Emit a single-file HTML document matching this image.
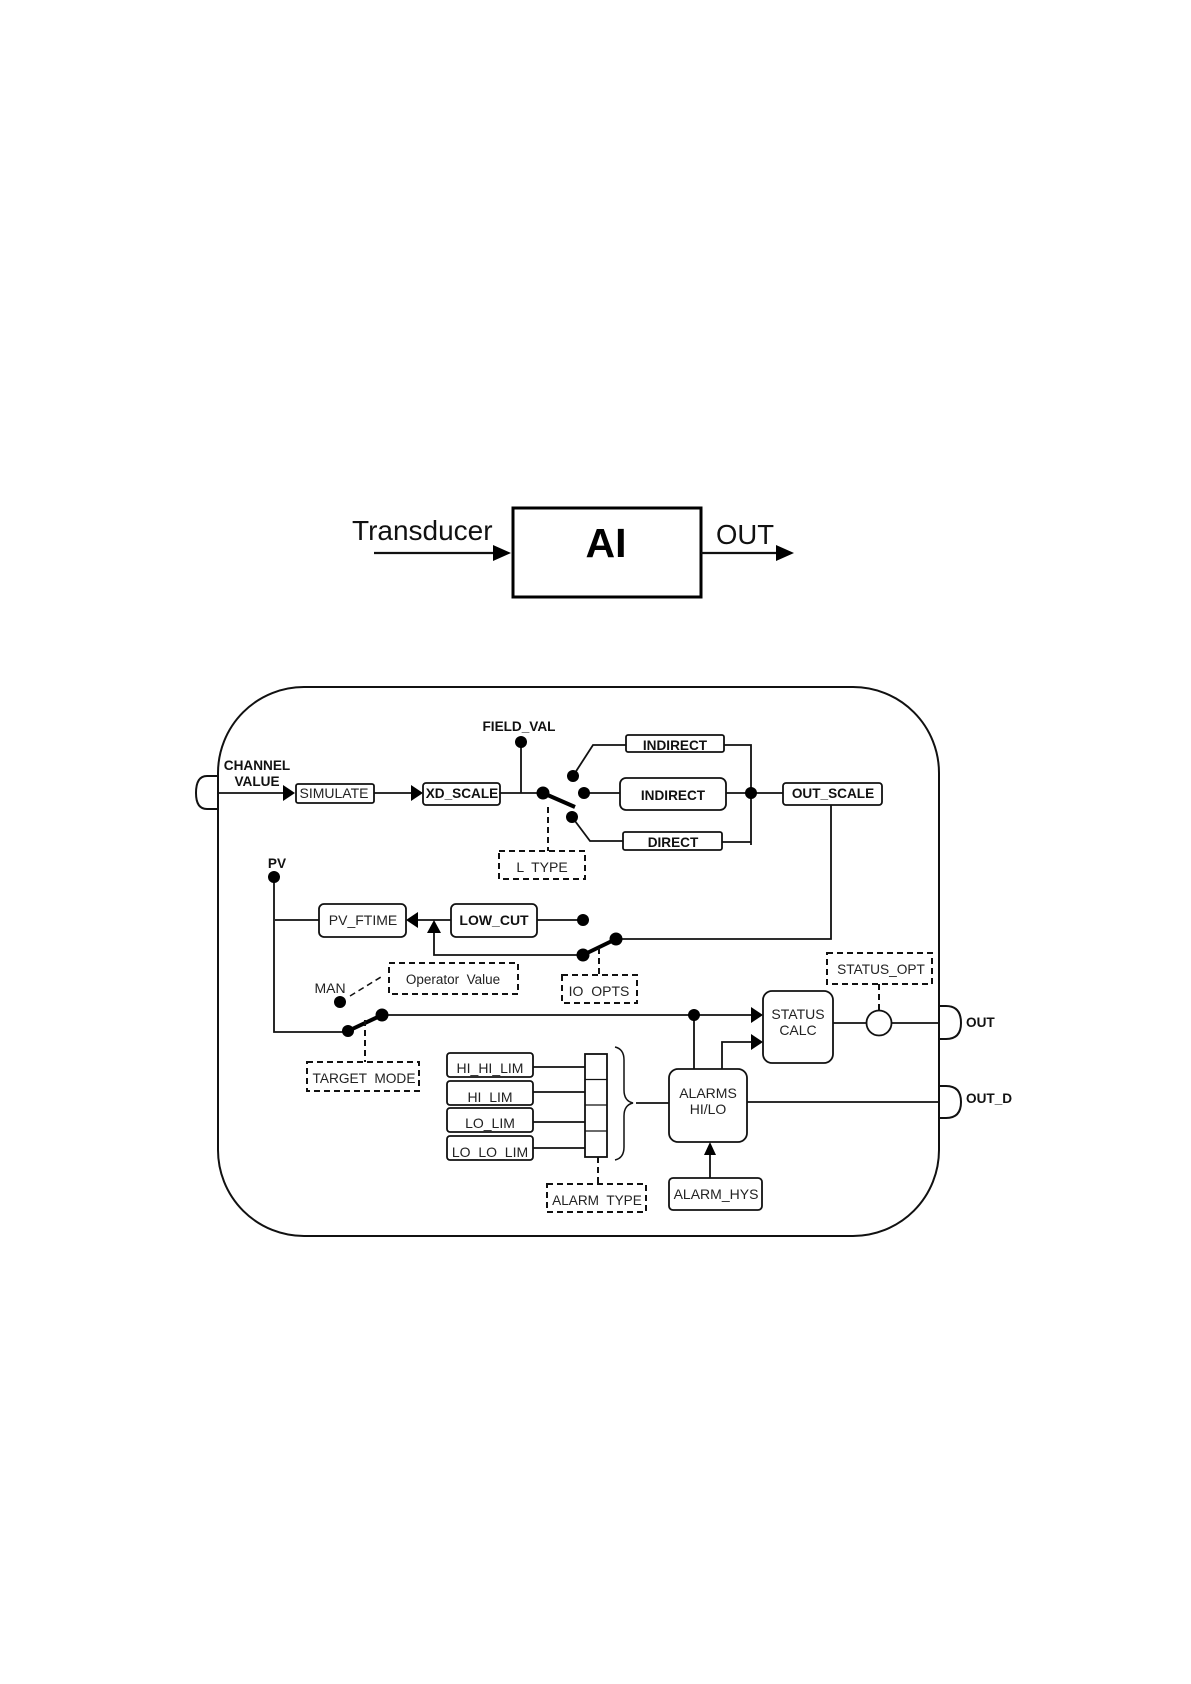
<!DOCTYPE html>
<html><head><meta charset="utf-8"><style>
html,body{margin:0;padding:0;background:#fff}
svg{display:block}
text{font-family:"Liberation Sans",sans-serif;fill:#222;font-size:14px}
.m{text-anchor:middle}
.b{font-weight:bold;fill:#111;font-size:13.6px}
.l{fill:none;stroke:#111;stroke-width:1.8}
.box{fill:#fff;stroke:#111;stroke-width:1.8}
.d{fill:#fff;stroke:#111;stroke-width:2;stroke-dasharray:6 4}
.dl{fill:none;stroke:#111;stroke-width:2;stroke-dasharray:6 4}
.t{stroke:#000;stroke-width:4;fill:none}
</style></head><body>
<svg width="1191" height="1684" viewBox="0 0 1191 1684" xmlns="http://www.w3.org/2000/svg">
<rect width="1191" height="1684" fill="#fff"/>
<!-- top -->
<rect x="513" y="508" width="188" height="89" fill="#fff" stroke="#000" stroke-width="3"/>
<text x="606" y="557" class="m b" style="font-size:41px;fill:#000">AI</text>
<text x="352" y="540" style="font-size:28px;fill:#111">Transducer</text>
<text x="716" y="544" style="font-size:27.5px;fill:#111">OUT</text>
<path d="M374 553H495M701 553H778" class="l" style="stroke-width:2.2"/>
<path d="M493 545L511 553L493 561ZM776 545L794 553L776 561Z" fill="#000"/>
<!-- outer -->
<rect x="218" y="687" width="721" height="549" rx="86" ry="86" fill="#fff" stroke="#111" stroke-width="2"/>
<path d="M217 776H207Q196 776 196 793Q196 809 207 809H217" class="l" style="stroke-width:2"/>
<path d="M939 1006H946Q961 1006 961 1023Q961 1039 946 1039H939M939 1086H946Q961 1086 961 1102Q961 1118 946 1118H939" class="l" style="stroke-width:2"/>
<!-- lines -->
<path d="M217 793H285M374 793H413M500 793H543M521 742V793" class="l"/>
<path d="M573 776L593 745H626M724 745H751V845M584 793H620M726 793H783M572 817L590 841H623M722 842H751" class="l"/>
<path d="M831 805V939H616" class="l"/>
<path d="M537 920H583M451 920H416M319 920H275M274 877V1032H348M583 955H434V930" class="l"/>
<path d="M382 1015H754M694 1015V1069M722 1069V1042H754" class="l"/>
<path d="M833 1023H939M747 1102H939M710 1178V1150M636 1103H669" class="l"/>
<path d="M533 1067H585M533 1092H585M533 1122H585M533 1148H585" class="l"/>
<!-- switches -->
<path d="M543 793L575 807M583 955L616 939M348 1031L382 1015" class="t"/>
<!-- dashed lines -->
<path d="M548 807V851M599 948V975M365 1020V1062M598 1157V1184M879 984V1011" class="dl"/>
<path d="M350 996L381 977" class="dl" style="stroke-width:1.5"/>
<!-- arrows -->
<path d="M283 785L295 793L283 801ZM411 785L423 793L411 801ZM418 912L406 920L418 928ZM434 920L427 933H441ZM751 1007L763 1015L751 1023ZM751 1034L763 1042L751 1050ZM710 1142L704 1155H716Z" fill="#000"/>
<!-- dots -->
<g fill="#000">
<circle cx="521" cy="742" r="6"/><circle cx="543" cy="793" r="6.500"/><circle cx="573" cy="776" r="6"/><circle cx="584" cy="793" r="6"/><circle cx="572" cy="817" r="6"/><circle cx="751" cy="793" r="6"/><circle cx="274" cy="877" r="6"/><circle cx="583" cy="920" r="6"/><circle cx="616" cy="939" r="6.500"/><circle cx="583" cy="955" r="6.500"/><circle cx="340" cy="1002" r="6"/><circle cx="348" cy="1031" r="6"/><circle cx="382" cy="1015" r="6.500"/><circle cx="694" cy="1015" r="6"/>
</g>
<circle cx="879" cy="1023" r="12.500" class="box"/>
<!-- boxes -->
<rect x="296" y="784" width="78" height="19" rx="2" class="box"/>
<rect x="423" y="783" width="77" height="22" rx="3" class="box"/>
<rect x="626" y="735" width="98" height="17" rx="2" class="box"/>
<rect x="620" y="778" width="106" height="32" rx="6" class="box"/>
<rect x="623" y="832" width="99" height="18" rx="2" class="box"/>
<rect x="783" y="783" width="99" height="22" rx="3" class="box"/>
<rect x="319" y="904" width="87" height="33" rx="5" class="box"/>
<rect x="451" y="904" width="86" height="33" rx="5" class="box"/>
<rect x="763" y="991" width="70" height="72" rx="9" class="box"/>
<rect x="669" y="1069" width="78" height="73" rx="9" class="box"/>
<rect x="669" y="1178" width="93" height="32" rx="4" class="box"/>
<rect x="447" y="1053" width="86" height="24" rx="3" class="box"/>
<rect x="447" y="1081" width="86" height="24" rx="3" class="box"/>
<rect x="447" y="1108" width="86" height="24" rx="3" class="box"/>
<rect x="447" y="1136" width="86" height="24" rx="3" class="box"/>
<rect x="585" y="1054" width="22" height="103" class="box"/>
<path d="M585 1079.500H607M585 1105H607M585 1131H607" class="l" style="stroke-width:1.200"/>
<path d="M615 1047Q624 1049 624 1060V1090Q624 1101 633 1103Q624 1105 624 1116V1147Q624 1158 615 1160" class="l" style="stroke-width:1.500"/>
<!-- dashed boxes -->
<rect x="499" y="851" width="86" height="28" class="d"/>
<rect x="389" y="963" width="129" height="31" class="d"/>
<rect x="562" y="975" width="75" height="28" class="d"/>
<rect x="307" y="1062" width="112" height="29" class="d"/>
<rect x="547" y="1184" width="99" height="28" class="d"/>
<rect x="827" y="953" width="105" height="31" class="d"/>
<!-- text -->
<text x="519" y="731" class="m b">FIELD_VAL</text>
<text x="257" y="770" class="m b">CHANNEL</text>
<text x="257" y="786" class="m b">VALUE</text>
<text x="334" y="798" class="m">SIMULATE</text>
<text x="462" y="798" class="m b">XD_SCALE</text>
<text x="675" y="750" class="m b">INDIRECT</text>
<text x="673" y="800" class="m b">INDIRECT</text>
<text x="673" y="847" class="m b">DIRECT</text>
<text x="833" y="798" class="m b">OUT_SCALE</text>
<text x="277" y="868" class="m b">PV</text>
<text x="363" y="925" class="m">PV_FTIME</text>
<text x="494" y="925" class="m b" style="font-size:14px">LOW_CUT</text>
<text x="542" y="872" class="m" xml:space="preserve">L  TYPE</text>
<text x="453" y="984" class="m" style="font-size:13.500px" xml:space="preserve">Operator  Value</text>
<text x="599" y="996" class="m" xml:space="preserve">IO  OPTS</text>
<text x="330" y="993" class="m">MAN</text>
<text x="364" y="1083" class="m" style="font-size:13.700px" xml:space="preserve">TARGET  MODE</text>
<text x="490" y="1073" class="m">HI_HI_LIM</text>
<text x="490" y="1102" class="m">HI_LIM</text>
<text x="490" y="1128" class="m">LO_LIM</text>
<text x="490" y="1157" class="m">LO_LO_LIM</text>
<text x="597" y="1205" class="m" style="font-size:13.600px" xml:space="preserve">ALARM  TYPE</text>
<text x="881" y="974" class="m" style="font-size:13.700px">STATUS_OPT</text>
<text x="798" y="1019" class="m">STATUS</text>
<text x="798" y="1035" class="m">CALC</text>
<text x="708" y="1098" class="m">ALARMS</text>
<text x="708" y="1114" class="m">HI/LO</text>
<text x="716" y="1199" class="m">ALARM_HYS</text>
<text x="966" y="1027" class="b">OUT</text>
<text x="966" y="1103" class="b">OUT_D</text>
</svg>
</body></html>
